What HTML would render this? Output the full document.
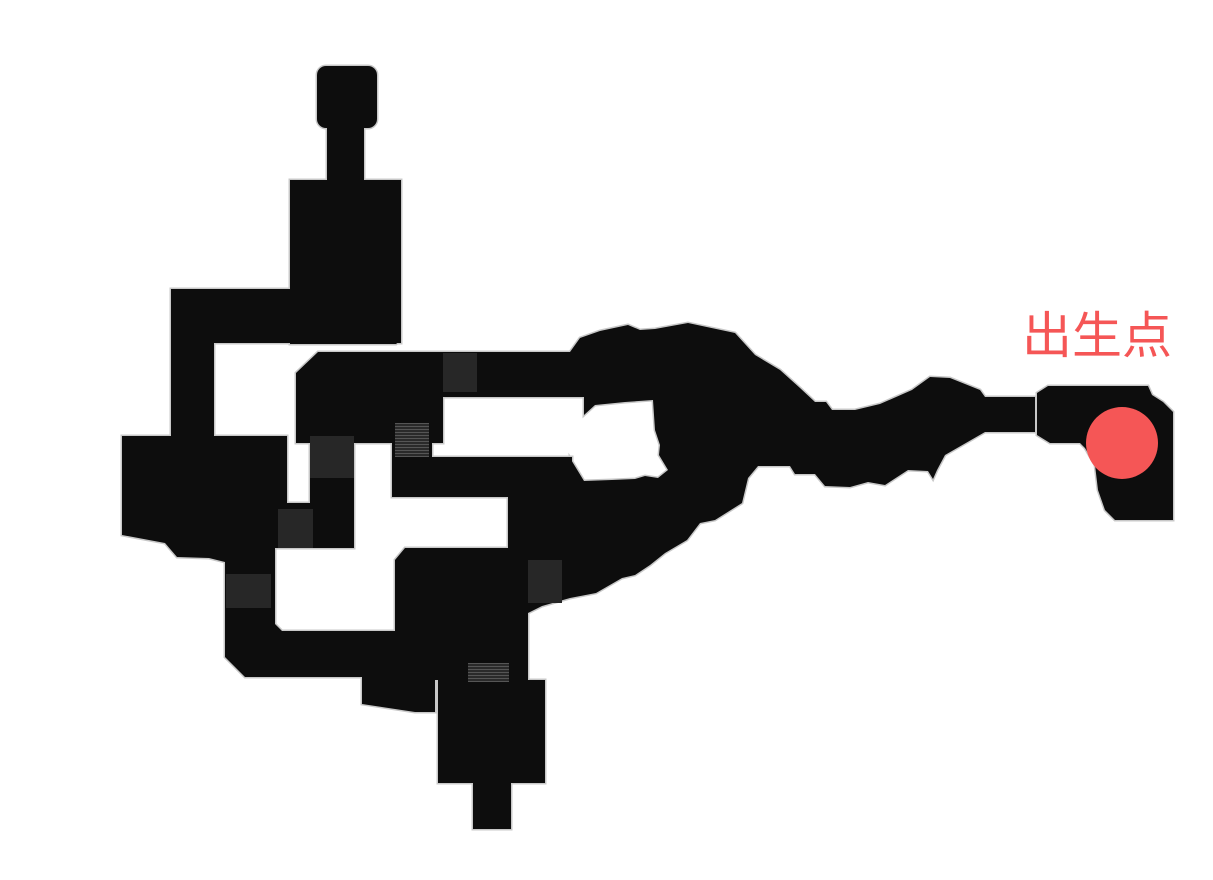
<!DOCTYPE html>
<html><head><meta charset="utf-8"><style>
html,body{margin:0;padding:0;background:#fff;width:1213px;height:880px;overflow:hidden}
</style></head><body>
<svg width="1213" height="880" viewBox="0 0 1213 880" xmlns="http://www.w3.org/2000/svg">
<defs>
<g id="m">
<rect x="317" y="66" width="60" height="62" rx="9"/>
<rect x="327" y="128" width="37" height="54"/>
<polygon points="290,180 401,180 401,340 396,344 290,344"/>
<rect x="171" y="289" width="230" height="54"/>
<rect x="171" y="289" width="43" height="150"/>
<polygon points="122,436 287,436 287,548 275,548 275,562 225,562 209,558 177,557 165,543 122,535"/>
<rect x="287" y="503" width="25" height="45"/>
<rect x="310" y="436" width="44" height="112"/>
<polygon points="225,560 275,560 275,624 282,631 400,631 400,677 245,677 225,657"/>
<polygon points="362,660 435,660 435,712 415,712 362,704"/>
<polygon points="395,560 405,548 528,548 528,680 395,680"/>
<rect x="438" y="680" width="107" height="103"/>
<rect x="473" y="782" width="38" height="47"/>
<rect x="465" y="660" width="46" height="22"/>
<polygon points="296,373 318,352 443,352 443,443 430,443 430,458 392,458 392,443 296,443"/>
<rect x="392" y="418" width="40" height="40"/>
<rect x="443" y="352" width="140" height="45"/>
<rect x="392" y="457" width="180" height="40"/>
<polygon points="570,352 580,338 600,331 628,325 640,330 655,329 688,323 735,333 755,355 780,370 800,388 815,402 826,402 832,410 855,410 880,404 912,390 930,377 950,378 980,390 985,397 1035,397 1035,432 985,432 945,455 937,470 933,479 928,471 908,470 885,485 868,482 850,487 825,486 815,474 795,474 790,466 758,466 748,478 742,503 715,520 700,523 687,540 665,553 650,565 635,575 622,578 596,593 570,598 542,606 528,613 508,613 508,497 570,497 570,458 584,481 612,480 635,479 645,476 658,478 668,470 659,455 660,445 655,430 653,400 625,402 595,405 584,415 584,397 570,397"/>
<polygon points="1037,393 1048,386 1148,386 1152,395 1163,402 1173,412 1173,520 1115,520 1105,510 1098,490 1095,465 1085,448 1080,443 1050,443 1037,435"/>
</g>
<pattern id="st" width="4" height="3" patternUnits="userSpaceOnUse">
<rect width="4" height="3" fill="#2a2a2a"/><rect width="4" height="1" fill="#555"/>
</pattern>
</defs>
<use href="#m" fill="#c8c8c8" stroke="#c8c8c8" stroke-width="3"/>
<use href="#m" fill="#0d0d0d"/>
<g fill="#272727">
<rect x="443" y="353" width="34" height="39"/>
<rect x="310" y="436" width="44" height="42"/>
<rect x="278" y="509" width="35" height="39"/>
<rect x="226" y="574" width="45" height="34"/>
<rect x="528" y="560" width="34" height="43"/>
</g>
<rect x="395" y="423" width="34" height="34" fill="url(#st)"/>
<rect x="468" y="663" width="41" height="19" fill="url(#st)"/>
<circle cx="1122" cy="443" r="36" fill="#f55656"/>
<text x="1022" y="353" font-family="'Liberation Sans','Noto Sans CJK SC',sans-serif" font-size="50" fill="#f55656">出生点</text>
</svg>
</body></html>
